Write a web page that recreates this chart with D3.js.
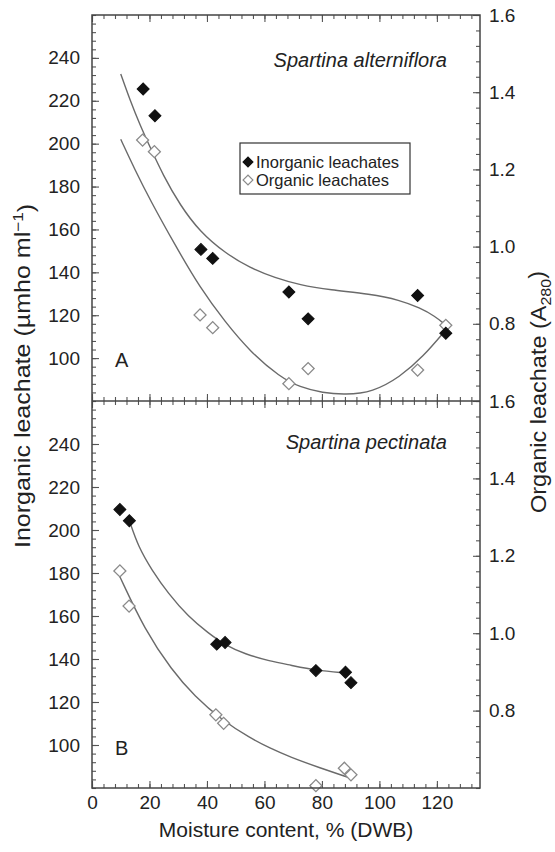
<!DOCTYPE html>
<html lang="en">
<head>
<meta charset="UTF-8">
<title>Leachate vs moisture content</title>
<script src="https://cdn.jsdelivr.net/npm/d3@7"></script>
<style>
  body { margin: 0; background: #fff; }
  svg { display: block; font-family: "Liberation Sans", Arial, sans-serif; }
</style>
</head>
<body>
<script>
// tick labels
const xTicks = [0, 20, 40, 60, 80, 100, 120]
const leftTicks = [100, 120, 140, 160, 180, 200, 220, 240]
const rightTicks = [0.8, 1.0, 1.2, 1.4, 1.6]
const legendLabels = ["Inorganic leachates", "Organic leachates"]

// A - Spartina alterniflora (inorganic on left axis, organic on right axis)
const altInorgX = [17.8, 21.9, 37.9, 42.0, 68.5, 75.2, 113.3, 123.1]
const altInorgY = [225.5, 213, 150.7, 146.5, 130.8, 118.3, 129.2, 111.6]
const altOrgX = [17.6, 21.7, 37.6, 42.0, 68.5, 75.2, 113.3, 123.1]
const altOrgY = [1.276, 1.246, 0.823, 0.79, 0.645, 0.684, 0.680, 0.796]
// fitted curves as drawn
const altInorgFitX = [10.0, 13.2, 16.7, 20.2, 24.7, 30.6, 37.6, 46.3, 55.0, 63.7, 72.3, 82.8, 96.7, 107.1, 114.1, 119.3, 123.1]
const altInorgFitY = [232.5, 220.4, 208.7, 198.4, 185.4, 171.4, 158.8, 149.0, 142.0, 137.4, 134.1, 131.8, 129.9, 127.1, 123.4, 119.6, 115.4]
const altOrgFitX = [10.0, 15.0, 20.2, 28.9, 37.6, 46.3, 55.0, 65.4, 72.3, 80.3, 88.0, 97.7, 107.1, 115.1, 123.1]
const altOrgFitY = [1.278, 1.198, 1.121, 1.004, 0.893, 0.805, 0.728, 0.662, 0.636, 0.621, 0.616, 0.623, 0.662, 0.714, 0.784]

// B - Spartina pectinata
const pecInorgX = [9.7, 13.0, 43.4, 46.3, 77.9, 88.2, 90.1]
const pecInorgY = [209.5, 204.3, 146.9, 147.7, 134.6, 133.8, 129]
const pecOrgX = [9.7, 12.9, 43.1, 45.8, 77.9, 87.8, 90.1]
const pecOrgY = [1.161, 1.070, 0.789, 0.767, 0.606, 0.651, 0.634]
const pecInorgFitX = [13.0, 16.1, 20.8, 26.5, 33.5, 40.5, 46.3, 53.2, 61.9, 68.9, 77.9, 88.0]
const pecInorgFitY = [204.3, 192.2, 181.4, 170.5, 159.7, 152.0, 146.5, 142.3, 139.0, 137.2, 134.7, 133.5]
const pecOrgFitX = [9.7, 18.4, 27.7, 35.8, 45.1, 55.0, 61.9, 68.9, 79.3, 89.7]
const pecOrgFitY = [1.146, 1.008, 0.905, 0.836, 0.776, 0.729, 0.703, 0.680, 0.652, 0.626]

const w = 555, h = 852
const pLeft = 92, pRight = 480, pTop = 15, pMid = 401, pBottom = 788
const ink = "#222", tickCol = "#555"

const zip = (xs, ys) => xs.map((v, i) => [v, ys[i]])

const panels = [
    { y0: pTop, y1: pMid, tag: "A", name: "Spartina alterniflora", nameY: 67, tagY: 367,
      inorg: zip(altInorgX, altInorgY), org: zip(altOrgX, altOrgY),
      inorgFit: zip(altInorgFitX, altInorgFitY), orgFit: zip(altOrgFitX, altOrgFitY), xLabels: false },
    { y0: pMid, y1: pBottom, tag: "B", name: "Spartina pectinata", nameY: 449, tagY: 755,
      inorg: zip(pecInorgX, pecInorgY), org: zip(pecOrgX, pecOrgY),
      inorgFit: zip(pecInorgFitX, pecInorgFitY), orgFit: zip(pecOrgFitX, pecOrgFitY), xLabels: true }
]

const x = d3.scaleLinear().domain([0, 135]).range([pLeft, pRight])

const svg = d3.select("body").append("svg")
    .attr("width", w)
    .attr("height", h)

function tidy(g, size) {
    g.select(".domain").remove()
    g.selectAll("line").attr("stroke", tickCol).attr("stroke-width", 1.1)
    g.selectAll("text").attr("fill", ink).style("font-size", size + "px").attr("font-family", null)
}

const diamond = d3.symbol(d3.symbolSquare, 72)
const xMinor = d3.range(0, 136, 4)

panels.forEach(p => {
    const yL = d3.scaleLinear().domain([80, 260]).range([p.y1, p.y0])
    const yR = d3.scaleLinear().domain([0.6, 1.6]).range([p.y1, p.y0])

    //left axis, ticks pointing in
    svg.append("g").attr("transform", `translate(${pLeft},0)`)
        .call(d3.axisLeft(yL).tickValues(d3.range(80, 261, 4)).tickSize(-4).tickFormat(""))
        .call(g => tidy(g, 19))
    svg.append("g").attr("transform", `translate(${pLeft},0)`)
        .call(d3.axisLeft(yL).tickValues(leftTicks).tickSize(-7).tickPadding(12))
        .call(g => tidy(g, 19))

    //right axis
    svg.append("g").attr("transform", `translate(${pRight},0)`)
        .call(d3.axisRight(yR).tickValues(d3.range(15, 41).map(v => v * 0.04)).tickSize(-4).tickFormat(""))
        .call(g => tidy(g, 19))
    svg.append("g").attr("transform", `translate(${pRight},0)`)
        .call(d3.axisRight(yR).tickValues(rightTicks).tickSize(-7).tickPadding(9).tickFormat(d3.format(".1f")))
        .call(g => tidy(g, 19))

    //x ticks on top and bottom edge of the panel
    svg.append("g").attr("transform", `translate(0,${p.y0})`)
        .call(d3.axisTop(x).tickValues(xMinor).tickSize(-4).tickFormat(""))
        .call(g => tidy(g, 19))
    svg.append("g").attr("transform", `translate(0,${p.y0})`)
        .call(d3.axisTop(x).tickValues(xTicks).tickSize(-7).tickFormat(""))
        .call(g => tidy(g, 19))
    svg.append("g").attr("transform", `translate(0,${p.y1})`)
        .call(d3.axisBottom(x).tickValues(xMinor).tickSize(-4).tickFormat(""))
        .call(g => tidy(g, 19))
    svg.append("g").attr("transform", `translate(0,${p.y1})`)
        .call(d3.axisBottom(x).tickValues(xTicks).tickSize(-7).tickPadding(8)
            .tickFormat(p.xLabels ? d3.format("d") : ""))
        .call(g => tidy(g, 19))

    //fitted curves
    const lineL = d3.line().x(d => x(d[0])).y(d => yL(d[1])).curve(d3.curveBasis)
    const lineR = d3.line().x(d => x(d[0])).y(d => yR(d[1])).curve(d3.curveBasis)
    svg.append("path").attr("d", lineL(p.inorgFit))
        .attr("fill", "none").attr("stroke", "#6a6a6a").attr("stroke-width", 1.4)
    svg.append("path").attr("d", lineR(p.orgFit))
        .attr("fill", "none").attr("stroke", "#6a6a6a").attr("stroke-width", 1.4)

    //points
    svg.append("g").selectAll("path")
        .data(p.org)
        .enter()
        .append("path")
        .attr("d", diamond)
        .attr("transform", d => `translate(${x(d[0])},${yR(d[1])}) rotate(45)`)
        .attr("fill", "#fff").attr("stroke", "#8a8a8a").attr("stroke-width", 1.3)
    svg.append("g").selectAll("path")
        .data(p.inorg)
        .enter()
        .append("path")
        .attr("d", diamond)
        .attr("transform", d => `translate(${x(d[0])},${yL(d[1])}) rotate(45)`)
        .attr("fill", "#111").attr("stroke", "#111").attr("stroke-width", 1)

    //labels
    svg.append("text").attr("x", 447).attr("y", p.nameY)
        .attr("text-anchor", "end").style("font-size", "20px").style("font-style", "italic")
        .attr("fill", ink).text(p.name)
    svg.append("text").attr("x", 115).attr("y", p.tagY)
        .style("font-size", "20px").attr("fill", ink).text(p.tag)
})

//frame
svg.append("rect").attr("x", pLeft).attr("y", pTop)
    .attr("width", pRight - pLeft).attr("height", pBottom - pTop)
    .attr("fill", "none").attr("stroke", "#444").attr("stroke-width", 1.5)
svg.append("line").attr("x1", pLeft).attr("x2", pRight).attr("y1", pMid).attr("y2", pMid)
    .attr("stroke", "#444").attr("stroke-width", 1.5)

//legend
const legend = svg.append("g").attr("id", "legend")
legend.append("rect").attr("x", 240).attr("y", 143).attr("width", 170).attr("height", 51)
    .attr("fill", "#fff").attr("stroke", "#333").attr("stroke-width", 1.2)
legendLabels.forEach((t, i) => {
    const cy = 162 + i * 18
    legend.append("path").attr("d", d3.symbol(d3.symbolSquare, 48))
        .attr("transform", `translate(248,${cy}) rotate(45)`)
        .attr("fill", i === 0 ? "#111" : "#fff")
        .attr("stroke", i === 0 ? "#111" : "#8a8a8a").attr("stroke-width", 1.2)
    legend.append("text").attr("x", 256).attr("y", cy + 6)
        .style("font-size", "16.5px").attr("fill", ink).text(t)
})

//axis titles
svg.append("text")
    .attr("transform", `translate(30,548) rotate(-90)`)
    .attr("text-anchor", "start").style("font-size", "22px").attr("fill", ink)
    .attr("textLength", 344).attr("lengthAdjust", "spacingAndGlyphs")
    .call(t => {
        t.append("tspan").text("Inorganic leachate (µmho ml")
        t.append("tspan").attr("dy", "-0.45em").style("font-size", "15px").text("−1")
        t.append("tspan").attr("dy", "0.45em").text(")")
    })

svg.append("text")
    .attr("transform", `translate(546,513) rotate(-90)`)
    .attr("text-anchor", "start").style("font-size", "22px").attr("fill", ink)
    .attr("textLength", 242).attr("lengthAdjust", "spacingAndGlyphs")
    .call(t => {
        t.append("tspan").text("Organic leachate (A")
        t.append("tspan").attr("dy", "0.3em").style("font-size", "15px").text("280")
        t.append("tspan").attr("dy", "-0.3em").text(")")
    })

svg.append("text").attr("x", (pLeft + pRight) / 2).attr("y", 837)
    .attr("text-anchor", "middle").style("font-size", "21px").attr("fill", ink)
    .text("Moisture content, % (DWB)")
</script>
</body>
</html>
